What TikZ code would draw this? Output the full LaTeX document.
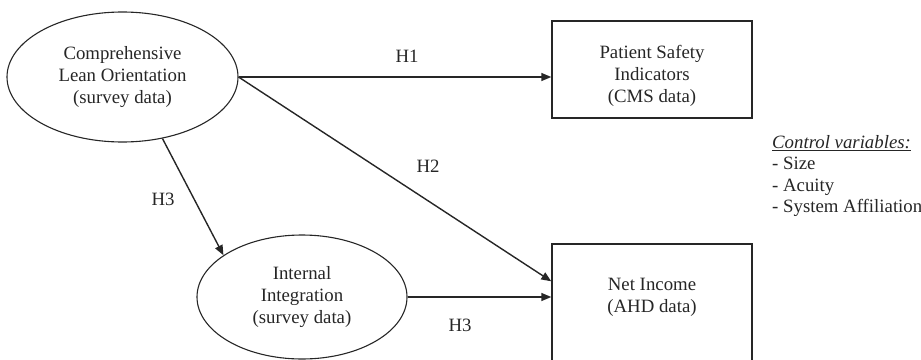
\documentclass[tikz,border=0pt]{standalone}
\usepackage{fontspec}
\setmainfont{Liberation Serif}
\usetikzlibrary{shapes.geometric,arrows.meta}
\definecolor{ink}{HTML}{262626}
\begin{document}
\begin{tikzpicture}[x=1pt,y=-1pt,
  every node/.style={font=\fontsize{18.8}{22}\selectfont, text=ink},
  construct/.style={draw=ink, ellipse, line width=1.1pt, inner sep=0pt, align=center},
  measure/.style={draw=ink, rectangle, line width=1.4pt, inner sep=0pt, minimum width=200pt},
  link/.style={draw=ink, -{Triangle[length=10pt,width=8pt]}, line width=1.4pt},
  hyp/.style={inner sep=0pt}
]
\useasboundingbox (0,0) rectangle (921,359);

% constructs measured by survey
\node[construct, minimum width=231pt, minimum height=130pt] (clo) at (122.5,77)
  {Comprehensive\\Lean Orientation\\(survey data)};
\node[construct, minimum width=210pt, minimum height=124pt] (ii) at (302,297)
  {Internal\\Integration\\(survey data)};

% outcome measures
\node[measure, minimum height=97pt] (psi) at (652,69.5) {};
\node[hyp, align=center] (psitext) at (652,76) {Patient Safety\\Indicators\\(CMS data)};
\node[measure, minimum height=136pt] (ni) at (652,312) {};
\node[hyp, align=center] (nitext) at (652,297) {Net Income\\(AHD data)};

% hypothesised paths
\draw[link] (clo.east) -- (clo.east -| psi.west);
\draw[link] (clo.east) -- ([yshift=-38pt]ni.north west);
\draw[link] (clo.-57) -- (ii.152);
\draw[link] (ii.east) -- (ii.east -| ni.west);

\node[hyp] (h1) at (407,56) {H1};
\node[hyp] (h2) at (428,166) {H2};
\node[hyp] (h3a) at (163,199) {H3};
\node[hyp] (h3b) at (460,325) {H3};

% controls
\node[hyp, align=left, anchor=north west, font=\fontsize{18.8}{21.5}\selectfont] (ctrl) at (772,135)
  {\underline{\textit{Control variables:}}\\- Size\\- Acuity\\- System Affiliation};
\end{tikzpicture}
\end{document}
